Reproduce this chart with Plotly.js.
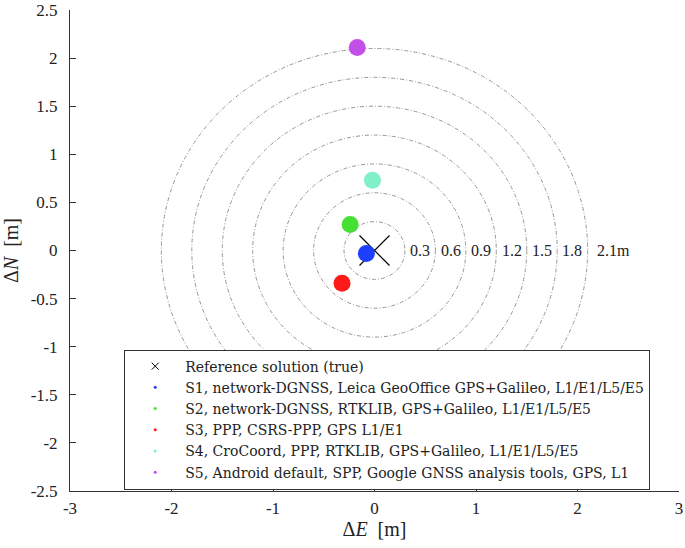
<!DOCTYPE html>
<html><head><meta charset="utf-8">
<script src="https://cdn.plot.ly/plotly-3.0.1.min.js"></script>
<style>body{margin:0;background:#fff}#c{width:685px;height:548px}</style>
</head><body><div id="c"></div>
<script>
const seriesNames = [
  "S1, network-DGNSS, Leica GeoOffice GPS+Galileo, L1/E1/L5/E5",
  "S2, network-DGNSS, RTKLIB, GPS+Galileo, L1/E1/L5/E5",
  "S3, PPP, CSRS-PPP, GPS L1/E1",
  "S4, CroCoord, PPP, RTKLIB, GPS+Galileo, L1/E1/L5/E5",
  "S5, Android default, SPP, Google GNSS analysis tools, GPS, L1"
];
const seriesColors = ["#1f3fff", "#44e033", "#ff1a1a", "#7ff0c8", "#c44ee8"];
const dE = [-0.08, -0.24, -0.32, -0.02, -0.17];
const dN = [-0.03, 0.27, -0.34, 0.73, 2.11];
const refE = [0];
const refN = [0];
const radii = [0.3, 0.6, 0.9, 1.2, 1.5, 1.8, 2.1];
const radiusLabels = ["0.3", "0.6", "0.9", "1.2", "1.5", "1.8", "2.1m"];
const xTicks = [-3, -2, -1, 0, 1, 2, 3];
const yTicks = [-2.5, -2, -1.5, -1, -0.5, 0, 0.5, 1, 1.5, 2, 2.5];
const xTickText = xTicks.map(String);
const yTickText = yTicks.map(String);

const serif = "Liberation Serif, serif";
const legendFont = "DejaVu Serif, serif";
const traces = [];
traces.push({x: refE, y: refN, mode: "markers", showlegend: false,
  marker: {symbol: "x-thin", size: 30, line: {width: 1.2, color: "#000"}, color: "#000"}});
for (let i = 0; i < seriesNames.length; i++) {
  traces.push({x: [dE[i]], y: [dN[i]], mode: "markers", showlegend: false,
    marker: {size: 17, color: seriesColors[i]}});
}
traces.push({x: [null], y: [null], mode: "markers", name: "Reference solution (true)",
  marker: {symbol: "x-thin", size: 7, line: {width: 1, color: "#000"}, color: "#000"}});
for (let i = 0; i < seriesNames.length; i++) {
  traces.push({x: [null], y: [null], mode: "markers", name: seriesNames[i],
    marker: {size: 3, color: seriesColors[i]}});
}

const shapes = radii.map(r => ({type: "circle", xref: "x", yref: "y",
  x0: -r, x1: r, y0: -r, y1: r, layer: "below",
  line: {color: "#8a8a8a", width: 0.9, dash: "4px,2px,1px,2px"}}));
const annotations = radii.map((r, i) => ({x: r + 0.15 + (i === radii.length - 1 ? 0.1 : 0), y: 0,
  xref: "x", yref: "y", text: radiusLabels[i], showarrow: false,
  font: {family: serif, size: 16, color: "#222"}}));

const axisCommon = {showgrid: false, zeroline: false, showline: true, linecolor: "#333",
  linewidth: 1, ticks: "inside", ticklen: 6, tickcolor: "#333", mirror: false,
  tickmode: "array", tickfont: {family: serif, size: 17, color: "#222"}};

Plotly.newPlot("c", traces, {
  width: 685, height: 548,
  margin: {l: 70, r: 6, t: 10, b: 57},
  paper_bgcolor: "#fff", plot_bgcolor: "#fff",
  xaxis: Object.assign({}, axisCommon, {range: [-3, 3], tickvals: xTicks, ticktext: xTickText,
    ticklabelstandoff: 2,
    title: {text: "Δ<i>E</i>&nbsp; [m]", font: {family: serif, size: 20, color: "#222"}, standoff: 2}}),
  yaxis: Object.assign({}, axisCommon, {range: [-2.5, 2.5], tickvals: yTicks, ticktext: yTickText,
    ticklabelstandoff: 8,
    title: {text: "Δ<i>N</i>&nbsp; [m]", font: {family: serif, size: 20, color: "#222"}, standoff: 6}}),
  shapes: shapes, annotations: annotations,
  showlegend: true,
  legend: {x: 0.089, y: 0.003, xanchor: "left", yanchor: "bottom",
    bgcolor: "#fff", bordercolor: "#333", borderwidth: 1,
    font: {family: legendFont, size: 14, color: "#222"}, itemwidth: 50, tracegroupgap: 0}
}, {displayModeBar: false, staticPlot: true});
</script></body></html>
